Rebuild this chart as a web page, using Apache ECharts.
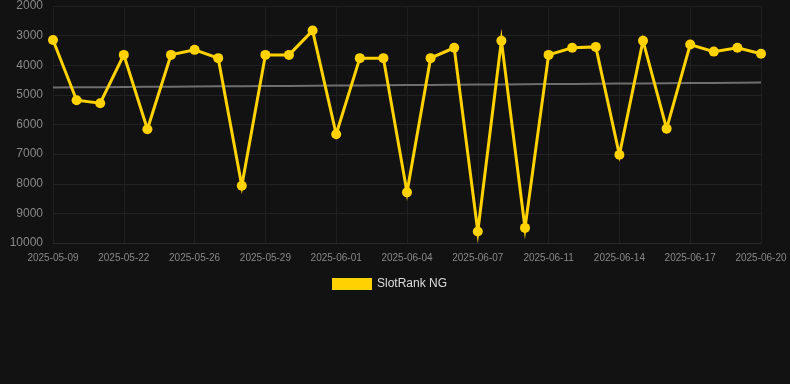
<!DOCTYPE html>
<html><head><meta charset="utf-8">
<script src="https://cdn.jsdelivr.net/npm/echarts@6/dist/echarts.min.js"></script>
<style>html,body{margin:0;padding:0;background:#121212;}#c{width:790px;height:384px;}</style>
</head><body><div id="c"></div>
<script>
const categories = ['2025-05-09','2025-05-15','2025-05-19','2025-05-22','2025-05-23','2025-05-25','2025-05-26','2025-05-27','2025-05-28','2025-05-29','2025-05-30','2025-05-31','2025-06-01','2025-06-02','2025-06-03','2025-06-04','2025-06-05','2025-06-06','2025-06-07','2025-06-08','2025-06-10','2025-06-11','2025-06-12','2025-06-13','2025-06-14','2025-06-15','2025-06-16','2025-06-17','2025-06-18','2025-06-19','2025-06-20'];
const rankValues = [3150,5180,5280,3650,6160,3650,3480,3760,8070,3650,3650,2830,6330,3760,3760,8290,3760,3410,9610,3170,9490,3650,3410,3380,7020,3170,6140,3300,3540,3410,3610];
const seriesName = 'SlotRank NG';
const yTicks = {min:2000, max:10000, interval:1000};

// linear regression trend computed from the data
const n = rankValues.length;
let sx=0, sy=0, sxy=0, sxx=0;
rankValues.forEach((v,i)=>{sx+=i;sy+=v;sxy+=i*v;sxx+=i*i;});
const slope = (n*sxy - sx*sy)/(n*sxx - sx*sx);
const icpt = (sy - slope*sx)/n;
const trend = rankValues.map((_,i)=>+(icpt+slope*i).toFixed(1));

const chart = echarts.init(document.getElementById('c'), null, {renderer:'canvas'});
chart.setOption({
  backgroundColor:'#121212',
  animation:false,
  grid:{left:53, right:29, top:6, bottom:141},
  legend:{data:[seriesName], left:327, top:273, itemWidth:40, itemHeight:12, itemGap:5,
    icon:'rect', textStyle:{color:'#dddddd', fontSize:12, fontFamily:'Arial, Liberation Sans, sans-serif'}},
  xAxis:{type:'category', data:categories, boundaryGap:false,
    axisLine:{show:true, lineStyle:{color:'#2a2a2a'}},
    axisTick:{show:false},
    axisLabel:{color:'#888888', fontSize:10, margin:10, interval:2, fontFamily:'Arial, Liberation Sans, sans-serif'},
    splitLine:{show:true, interval:2, lineStyle:{color:'#1f1f1f', width:1}}},
  yAxis:{type:'value', inverse:true, min:yTicks.min, max:yTicks.max, interval:yTicks.interval,
    axisLine:{show:false}, axisTick:{show:false},
    axisLabel:{color:'#888888', fontSize:12, margin:10, formatter:v=>String(v), fontFamily:'Arial, Liberation Sans, sans-serif'},
    splitLine:{lineStyle:{color:'#222222', width:1}}},
  series:[
    {name:'trend', type:'line', data:trend, symbol:'none', silent:true,
      lineStyle:{color:'#6e6e6e', width:2}, z:1},
    {name:seriesName, type:'line', data:rankValues, symbol:'circle', symbolSize:10,
      itemStyle:{color:'#FFD200'}, lineStyle:{color:'#FFD200', width:3, join:'miter'}, z:3}
  ]
});
</script></body></html>
